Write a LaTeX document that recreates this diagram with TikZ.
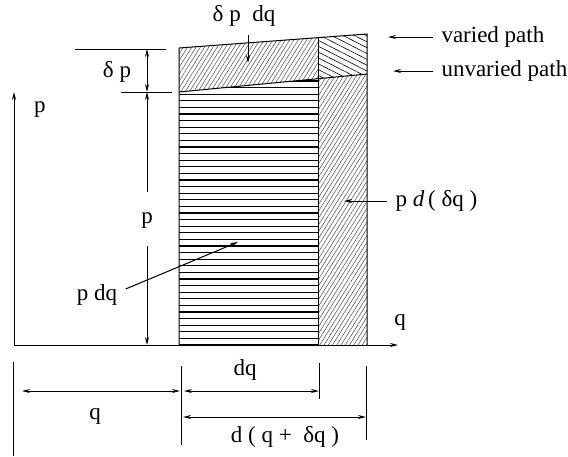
\documentclass[tikz,border=0pt]{standalone}
\usepackage{fontspec}
\setmainfont{Liberation Serif}
\usetikzlibrary{positioning, arrows.meta, patterns.meta}

\begin{document}
\begin{tikzpicture}[
        x=0.5pt, y=-0.5pt,
        font=\fontsize{11.5}{13}\selectfont,
        line width=0.5pt,
        label/.style={inner sep=2pt},
        arrow/.style={-{Stealth[length=4pt,width=2pt]}},
        dim/.style={{Stealth[length=4pt,width=2pt]}-{Stealth[length=4pt,width=2pt]}},
        slines/.style={pattern={Lines[angle=58,distance=1.8pt,line width=0.25pt]}, pattern color=black!70},
        clines/.style={pattern={Lines[angle=-27,distance=2.6pt,line width=0.3pt]}},
    ]
        \useasboundingbox (0,0) rectangle (568,456);

        % Points of the strip
        \coordinate (o) at (14,345);
        \coordinate (a) at (179,345);
        \coordinate (b) at (318,345);
        \coordinate (c) at (367,345);
        \coordinate (u1) at (179,92);
        \coordinate (u2) at (318,78.7);
        \coordinate (u3) at (367,74);
        \coordinate (v1) at (179,48);
        \coordinate (v2) at (318,37.5);
        \coordinate (v3) at (367,34);

        % Hatched areas
        \begin{scope}
            \clip (a) -- (b) -- (u2) -- (u1) -- cycle;
            \foreach \y in {345,338.4,...,75}
                \draw[line width=0.6pt] (179,\y) -- (318,\y);
        \end{scope}
        \fill[slines] (b) -- (c) -- (u3) -- (u2) -- cycle;
        \fill[slines] (u1) -- (u2) -- (v2) -- (v1) -- cycle;
        \fill[clines] (u2) -- (u3) -- (v3) -- (v2) -- cycle;

        % Outlines and paths
        \draw (a) -- (v1) -- (v3) -- (c);
        \draw (b) -- (v2);
        \draw (u1) -- (u3);

        % Axes
        \coordinate (ptop) at (14,92);
        \coordinate (qend) at (398,345);
        \draw[arrow] (o) -- (ptop);
        \draw[arrow] (o) -- (qend);
        \node[label] (lblp) at (40,110) {p};
        \node[label] (lblq) at (400,322) {q};

        % Height of the strip
        \coordinate (h1a) at (75,49);
        \coordinate (h1b) at (166,49);
        \coordinate (h2a) at (121,92);
        \coordinate (h2b) at (172,92);
        \draw (h1a) -- (h1b);
        \draw (h2a) -- (h2b);
        \coordinate (d1) at (147,49);
        \coordinate (d2) at (147,92);
        \coordinate (d3) at (147,192);
        \coordinate (d4) at (147,246);
        \coordinate (d5) at (147,345);
        \draw[dim] (d1) -- (d2);
        \draw[arrow] (d3) -- (d2);
        \draw[arrow] (d4) -- (d5);
        \node[label] (dp) at (117,72) {δ p};
        \node[label] (pmid) at (147,221) {p};

        % Labels with pointers
        \node[label] (dpdq) at (244,16) {δ p\ \ dq};
        \coordinate (dpdqtip) at (248,63);
        \draw[arrow] ([yshift=-2pt]dpdq.south -| dpdqtip) -- (dpdqtip);

        \node[label, anchor=west] (varied) at (437,37) {varied path};
        \coordinate (variedtip) at (388,37);
        \draw[arrow] ([xshift=-2pt]varied.west) -- (variedtip);

        \node[label, anchor=west] (unvaried) at (437,71) {unvaried path};
        \coordinate (unvariedtip) at (393,71);
        \draw[arrow] ([xshift=-2pt]unvaried.west) -- (unvariedtip);

        \node[label, anchor=west] (pddq) at (391,201) {p \textit{d}\,( δq )};
        \coordinate (pddqtip) at (344,201);
        \draw[arrow] ([xshift=-2pt]pddq.west) -- (pddqtip);

        \node[label] (pdq) at (97,295) {p dq};
        \coordinate (pdqtip) at (238,242);
        \draw[arrow] ([xshift=2pt,yshift=3pt]pdq.east) -- (pdqtip);

        % Widths below the axis
        \draw (13,362) -- (13,456);
        \draw (181,366) -- (181,445);
        \draw (319,363) -- (319,399);
        \draw (366,366) -- (366,440);
        \coordinate (w1) at (22,391);
        \coordinate (w2) at (180,391);
        \coordinate (w3) at (184,391);
        \coordinate (w4) at (319,391);
        \coordinate (w5) at (183,417);
        \coordinate (w6) at (366,417);
        \draw[dim] (w1) -- (w2);
        \draw[dim] (w3) -- (w4);
        \draw[dim] (w5) -- (w6);
        \node[label] (dqlen) at (245,370) {dq};
        \node[label] (qlen) at (95,416) {q};
        \node[label] (dqsum) at (285,437) {d ( q +\ \ δq )};

    \end{tikzpicture}
\end{document}
